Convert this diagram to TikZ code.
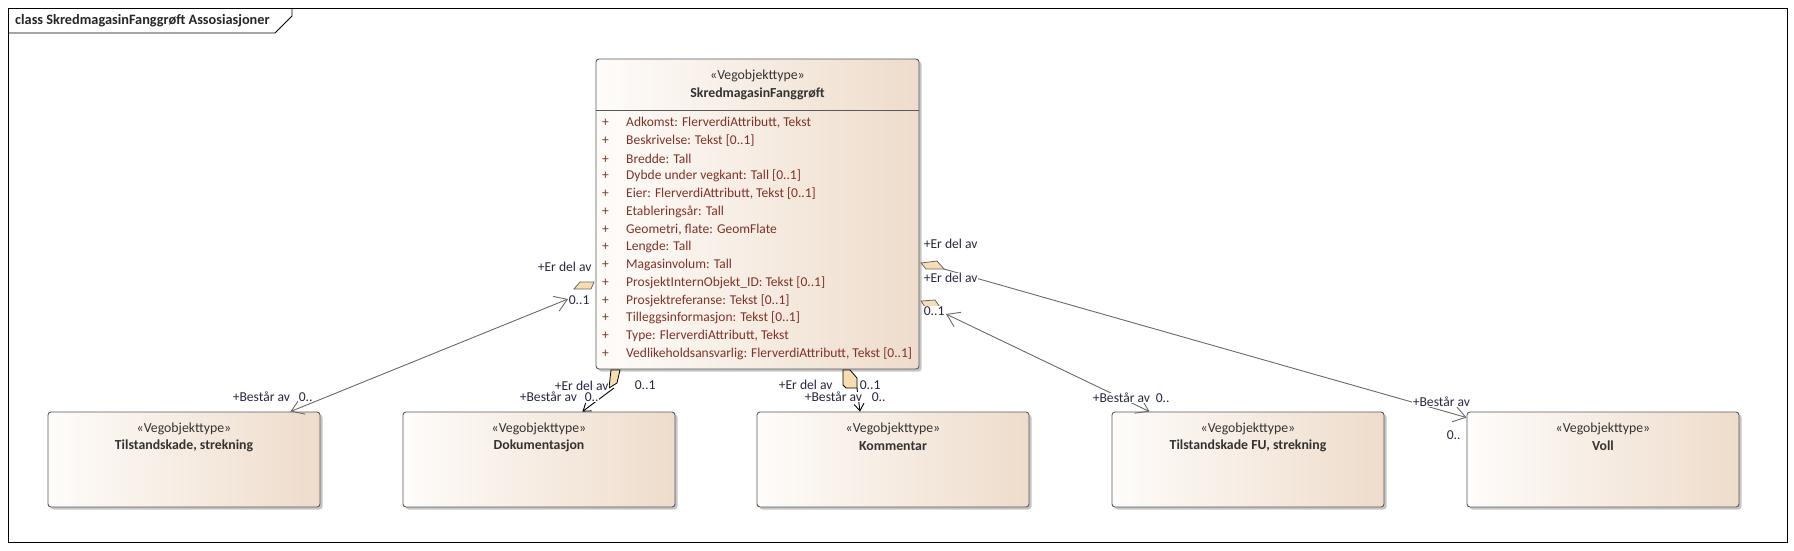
\documentclass[tikz,border=0pt]{standalone}
\usepackage{fontspec}
\setmainfont{Carlito}
\usetikzlibrary{arrows.meta,shadows}
\definecolor{boxtan}{RGB}{238,220,203}
\definecolor{boxlight}{RGB}{254,252,250}
\definecolor{diamondtan}{RGB}{246,222,178}
\definecolor{attrred}{RGB}{128,50,38}
\definecolor{labelnavy}{RGB}{40,40,66}
\definecolor{linegrey}{RGB}{105,105,105}

\tikzset{
  classbox/.style={draw=black!65, line width=0.9pt, rounded corners=3pt,
    left color=boxlight, right color=boxtan,
    drop shadow={shadow xshift=2.5pt, shadow yshift=-2.5pt, fill=black!45, opacity=0.5}},
  stereo/.style={inner sep=0pt, text=black!80, font=\fontsize{13.8}{15}\selectfont},
  clsname/.style={inner sep=0pt, text=black!80, font=\fontsize{13.8}{15}\selectfont\bfseries},
  attr/.style={anchor=west, inner sep=0pt, text=attrred, font=\fontsize{13.5}{15}\selectfont},
  role/.style={anchor=west, inner sep=0.6pt, fill=white, text=labelnavy, font=\fontsize{13.6}{15}\selectfont},
  assoc/.style={draw=linegrey, line width=0.9pt},
  agg/.style={draw=linegrey, line width=0.8pt, fill=diamondtan},
  >={Straight Barb[length=12pt,width=16pt]}
}

\begin{document}
\begin{tikzpicture}[x=1pt, y=-1pt]
	\useasboundingbox (0,0) rectangle (1794,550);
	% frame and title
	\draw[line width=0.9pt] (8,8) rectangle (1787,542);
	\draw[line width=0.9pt] (8,33) -- (275,33) -- (292,16) -- (292,8);
	\node (title) at (15,21) [anchor=west, inner sep=0pt, font=\fontsize{14.3}{16}\selectfont\bfseries, text=black!85] {class SkredmagasinFanggrøft Assosiasjoner};

	% main class
	\node (main) at (757.5,214) [classbox, minimum width=323pt, minimum height=310pt] {};
	\draw[draw=black!65, line width=0.9pt] (main.west |- 0,110) -- (main.east |- 0,110);
	\node (main-st) at (757.5,76) [stereo] {«Vegobjekttype»};
	\node (main-nm) at (757.5,94) [clsname] {SkredmagasinFanggrøft};
	\node (a1) at (602,123) [attr] {\makebox[24pt][l]{+}Adkomst: FlerverdiAttributt, Tekst};
	\node (a2) at (602,140.75) [attr] {\makebox[24pt][l]{+}Beskrivelse: Tekst [0..1]};
	\node (a3) at (602,158.5) [attr] {\makebox[24pt][l]{+}Bredde: Tall};
	\node (a4) at (602,176.25) [attr] {\makebox[24pt][l]{+}Dybde under vegkant: Tall [0..1]};
	\node (a5) at (602,194) [attr] {\makebox[24pt][l]{+}Eier: FlerverdiAttributt, Tekst [0..1]};
	\node (a6) at (602,211.75) [attr] {\makebox[24pt][l]{+}Etableringsår: Tall};
	\node (a7) at (602,229.5) [attr] {\makebox[24pt][l]{+}Geometri, flate: GeomFlate};
	\node (a8) at (602,247.25) [attr] {\makebox[24pt][l]{+}Lengde: Tall};
	\node (a9) at (602,265) [attr] {\makebox[24pt][l]{+}Magasinvolum: Tall};
	\node (a10) at (602,282.75) [attr] {\makebox[24pt][l]{+}ProsjektInternObjekt\_ID: Tekst [0..1]};
	\node (a11) at (602,300.5) [attr] {\makebox[24pt][l]{+}Prosjektreferanse: Tekst [0..1]};
	\node (a12) at (602,318.25) [attr] {\makebox[24pt][l]{+}Tilleggsinformasjon: Tekst [0..1]};
	\node (a13) at (602,336) [attr] {\makebox[24pt][l]{+}Type: FlerverdiAttributt, Tekst};
	\node (a14) at (602,353.75) [attr] {\makebox[24pt][l]{+}Vedlikeholdsansvarlig: FlerverdiAttributt, Tekst [0..1]};

	% related classes
	\node (tilst) at (184,459.5) [classbox, minimum width=272pt, minimum height=95pt] {};
	\node (tilst-st) at (184,429) [stereo] {«Vegobjekttype»};
	\node (tilst-nm) at (184,446) [clsname] {Tilstandskade, strekning};
	\node (doku) at (539,459.5) [classbox, minimum width=272pt, minimum height=95pt] {};
	\node (doku-st) at (539,429) [stereo] {«Vegobjekttype»};
	\node (doku-nm) at (539,446) [clsname] {Dokumentasjon};
	\node (komm) at (893,459.5) [classbox, minimum width=272pt, minimum height=95pt] {};
	\node (komm-st) at (893,429) [stereo] {«Vegobjekttype»};
	\node (komm-nm) at (893,446) [clsname] {Kommentar};
	\node (tfu) at (1248,459.5) [classbox, minimum width=272pt, minimum height=95pt] {};
	\node (tfu-st) at (1248,429) [stereo] {«Vegobjekttype»};
	\node (tfu-nm) at (1248,446) [clsname] {Tilstandskade FU, strekning};
	\node (voll) at (1603,459.5) [classbox, minimum width=272pt, minimum height=95pt] {};
	\node (voll-st) at (1603,429) [stereo] {«Vegobjekttype»};
	\node (voll-nm) at (1603,446) [clsname] {Voll};

	% association ends at the main class
	\coordinate (c1) at (568,299);
	\coordinate (c2) at (614,388);
	\coordinate (c3) at (857,388);
	\coordinate (c4) at (946,314);
	\coordinate (c5) at (944,269);

	% associations
	\draw[assoc, <->] (c1) -- ([xshift=-30pt]tilst.north east);
	\draw[assoc, draw=black, ->, >={Straight Barb[length=7pt,width=10pt]}] (c2) -- ([xshift=-93pt]doku.north east);
	\draw[assoc, draw=black, ->, >={Straight Barb[length=7pt,width=10pt]}] (c3) -- ([xshift=-33pt]komm.north);
	\draw[assoc, <->] (c4) -- ([xshift=38pt]tfu.north west);
	\draw[assoc, ->] (c5) -- ([yshift=-6pt]voll.north west);

	% aggregation ends
	\draw[agg] (574,289) -- (580,282) -- (594,282) -- (591,289) -- cycle;
	\draw[agg] (921,263) -- (937,261) -- (944,269) -- (926,269) -- cycle;
	\draw[agg] (921,301) -- (935,300) -- (940,307) -- (925,307) -- cycle;
	\draw[agg, draw=black] (611,370) -- (620,370) -- (617,383) -- (609,388) -- cycle;
	\draw[agg, draw=black] (843,370) -- (850,370) -- (857,378) -- (857,388) -- (846,388) -- (843,385) -- cycle;

	% role and multiplicity labels
	\node (r1a) at (537,267) [role] {+Er del av};
	\node (m1a) at (568,300) [role] {0..1};
	\node (r1b) at (232,397) [role] {+Består av};
	\node (m1b) at (298,397) [role] {0..};
	\node (r2b) at (519,397) [role] {+Består av};
	\node (m2b) at (584,397) [role] {0..};
	\node (r2a) at (554,386) [role] {+Er del av};
	\node (m2a) at (634,385) [role] {0..1};
	\node (r3b) at (804,397) [role] {+Består av};
	\node (m3b) at (871,397) [role] {0..};
	\node (r3a) at (778,385) [role] {+Er del av};
	\node (m3a) at (859,385) [role] {0..1};
	\node (r5a) at (923,244) [role] {+Er del av};
	\node (r4a) at (923,278) [role] {+Er del av};
	\node (m4a) at (923,311) [role] {0..1};
	\node (r4b) at (1092,398) [role] {+Består av};
	\node (m4b) at (1155,398) [role] {0..};
	\node (r5b) at (1412,402) [role] {+Består av};
	\node (m5b) at (1446,435) [role] {0..};
\end{tikzpicture}
\end{document}
